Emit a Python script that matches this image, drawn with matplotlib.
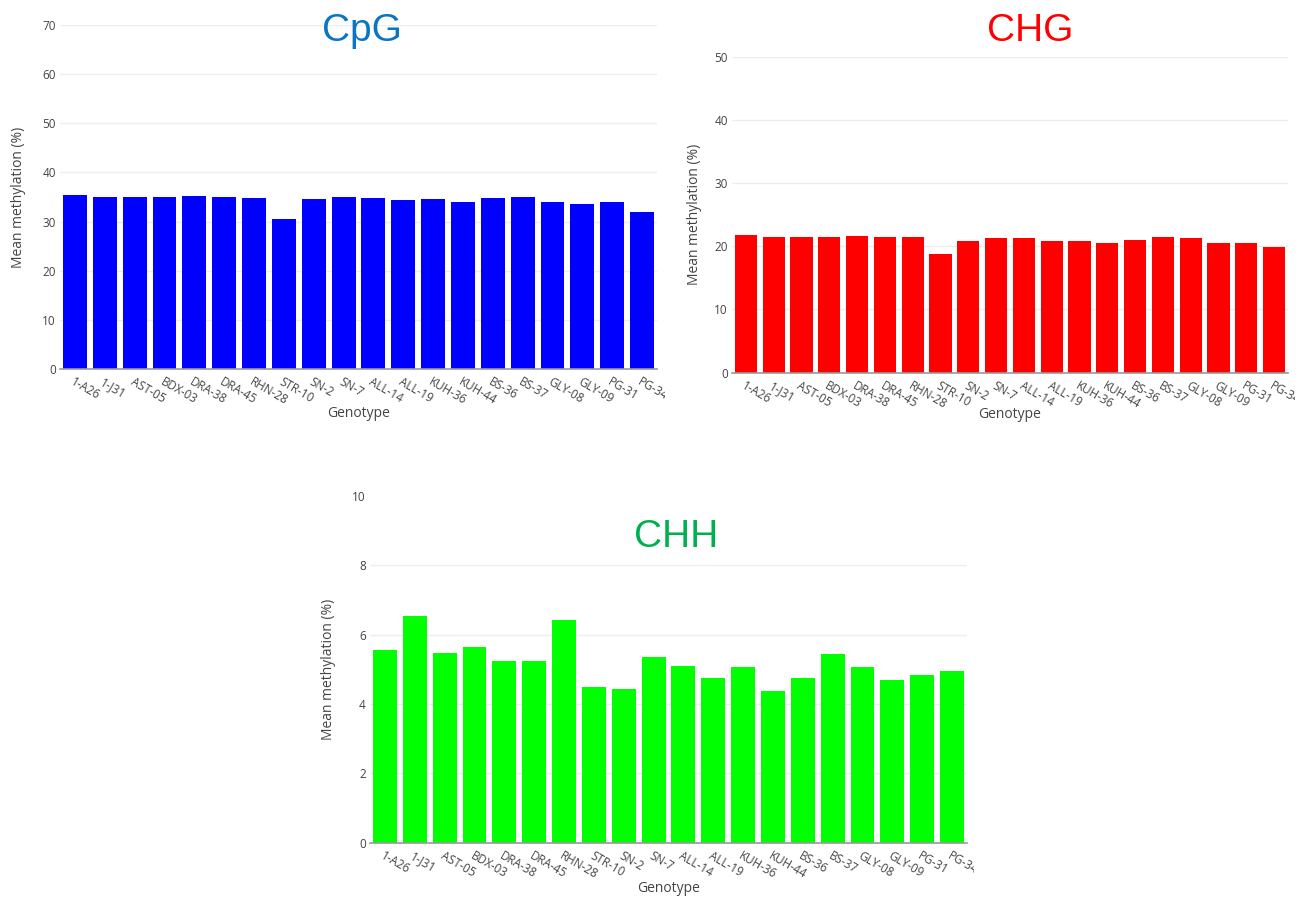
import matplotlib
matplotlib.use("Agg")
import matplotlib.pyplot as plt
from matplotlib.transforms import Bbox, TransformedBbox

genotypes = ["1-A26", "1-J31", "AST-05", "BDX-03", "DRA-38", "DRA-45", "RHN-28",
             "STR-10", "SN-2", "SN-7", "ALL-14", "ALL-19", "KUH-36", "KUH-44",
             "BS-36", "BS-37", "GLY-08", "GLY-09", "PG-31", "PG-34"]

cpg = [35.4, 35.1, 35.1, 34.9, 35.2, 35.0, 34.8, 30.6, 34.5, 35.0,
       34.85, 34.3, 34.65, 34.0, 34.7, 35.1, 33.95, 33.6, 33.9, 32.0]
chg = [21.8, 21.5, 21.5, 21.5, 21.6, 21.5, 21.5, 18.8, 20.8, 21.25,
       21.25, 20.9, 20.9, 20.6, 21.0, 21.5, 21.25, 20.6, 20.5, 19.9]
chh = [5.56, 6.54, 5.48, 5.63, 5.25, 5.23, 6.42, 4.48, 4.43, 5.34,
       5.10, 4.76, 5.06, 4.38, 4.76, 5.45, 5.06, 4.70, 4.82, 4.95]

cpg_ticks = [0, 10, 20, 30, 40, 50, 60, 70]
chg_ticks = [0, 10, 20, 30, 40, 50]
chh_ticks = [0, 2, 4, 6, 8, 10]

W, H = 1311, 900
fig = plt.figure(figsize=(W / 100, H / 100), dpi=100)
fig.patch.set_facecolor("white")

TXT = "#444444"
FONT = "Open Sans"


def px_axes(left, right, top, bottom):
    return fig.add_axes([left / W, 1 - bottom / H, (right - left) / W, (bottom - top) / H])


def panel(box, values, yticks, ymax, color, title, tcolor, tpos, ylab_x, gen_y, clip_x,
          hide_top_grid=False):
    ax = px_axes(*box)
    x = list(range(len(values)))
    ax.bar(x, values, width=0.8, color=color, zorder=3, edgecolor="none")
    ax.set_xlim(-0.5, len(values) - 0.5)
    ax.set_ylim(0, ymax)
    for s in ["top", "right", "left"]:
        ax.spines[s].set_visible(False)
    ax.spines["bottom"].set_color("#999999")
    ax.spines["bottom"].set_linewidth(1.2)
    ax.spines["bottom"].set_zorder(4)
    for t in yticks[1:]:
        if hide_top_grid and t == yticks[-1]:
            continue
        ax.axhline(t, color="#eeeeee", linewidth=1.0, zorder=1)
    ax.set_yticks(yticks)
    ax.set_yticklabels([str(t) for t in yticks], fontsize=8.5, color=TXT, family=FONT)
    ax.tick_params(axis="y", length=0, pad=3)
    ax.set_xticks(x)
    ax.set_xticklabels(genotypes, rotation=-30, ha="left", va="top",
                       rotation_mode="anchor", fontsize=8.5, color=TXT, family=FONT)
    ax.tick_params(axis="x", length=0, pad=5)
    clipbox = TransformedBbox(Bbox([[0, 0], [clip_x / W, 1]]), fig.transFigure)
    for lab in ax.get_xticklabels():
        lab.set_clip_on(True)
        lab.set_clip_box(clipbox)
    ax.set_ylabel("Mean methylation (%)", fontsize=10, color=TXT, family=FONT)
    ax.yaxis.set_label_coords((ylab_x - box[0]) / (box[1] - box[0]), 0.5)
    ax.set_xlabel("Genotype", fontsize=10, color=TXT, family=FONT)
    ax.xaxis.set_label_coords(0.5, 1 - (gen_y - box[2]) / (box[3] - box[2]))
    ax.xaxis.label.set_va("center")
    ax.yaxis.label.set_va("center")
    fig.text(tpos[0] / W, 1 - tpos[1] / H, title, fontsize=28, color=tcolor,
             family="Liberation Sans", ha="center", va="center")
    return ax


panel((60, 657, 25.3, 368.7), cpg, cpg_ticks, 70, "#0000ff", "CpG", "#0a75c2",
      (362, 31), 18, 414, 665)
panel((732, 1288, 56.7, 372.7), chg, chg_ticks, 50, "#ff0000", "CHG", "#ff0000",
      (1030, 31), 695, 415, 1295)
panel((370, 967, 495.7, 842.7), chh, chh_ticks, 10, "#00ff00", "CHH", "#00b050",
      (676, 537), 328, 888, 974, hide_top_grid=True)

fig.savefig("out.png", dpi=100, facecolor="white")
